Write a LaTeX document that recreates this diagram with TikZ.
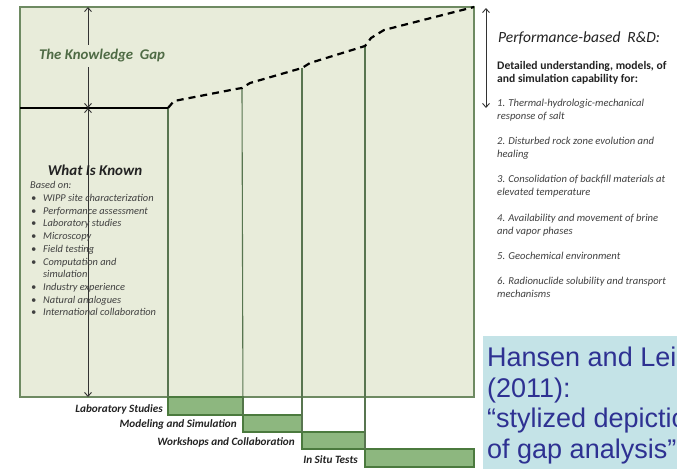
\documentclass[tikz,border=0pt]{standalone}
\usepackage{fontspec}
\setmainfont{Carlito}
\newfontfamily\arialf{Liberation Sans}
\usetikzlibrary{arrows.meta}
\definecolor{boxfill}{HTML}{E8ECDA}
\definecolor{boxline}{HTML}{6E8A62}
\definecolor{barfill}{HTML}{8DB77F}
\definecolor{barline}{HTML}{4B7A3E}
\definecolor{vlinecol}{HTML}{587550}
\definecolor{gapgreen}{HTML}{4F6B45}
\definecolor{listgrey}{HTML}{404040}
\definecolor{darktext}{HTML}{222222}
\definecolor{arrowcol}{HTML}{333333}
\definecolor{calloutfill}{HTML}{C4E3E7}
\definecolor{callouttext}{HTML}{2E3192}
\tikzset{
  mainbox/.style={draw=boxline, fill=boxfill, line width=1.5pt, inner sep=0pt, outer sep=0pt},
  barbox/.style={draw=barline, fill=barfill, line width=1.2pt, inner sep=0pt, outer sep=0pt},
  vline/.style={draw=vlinecol, line width=1.1pt},
  knownline/.style={draw=black, line width=2.5pt},
  gapline/.style={draw=black, line width=2.2pt, dash pattern=on 7pt off 5pt},
  gaparrow/.style={draw=arrowcol, line width=0.9pt, {Straight Barb[length=4pt,width=7pt]}-{Straight Barb[length=4pt,width=7pt]}},
  listtxt/.style={anchor=base west, inner sep=0pt, text=listgrey, font=\fontsize{10.4}{12}\selectfont\itshape},
  rlisttxt/.style={anchor=base west, inner sep=0pt, text=listgrey, font=\fontsize{10.6}{12}\selectfont\itshape},
  barlabel/.style={anchor=base east, inner sep=0pt, text=darktext, font=\fontsize{11.2}{13}\selectfont\bfseries\itshape},
  calltxt/.style={anchor=base west, inner sep=0pt, text=callouttext, font=\fontsize{27}{31}\selectfont\arialf},
}
\begin{document}
\begin{tikzpicture}[x=1pt,y=-1pt]
\useasboundingbox (0,0) rectangle (677,469);
\fill[white] (0,0) rectangle (677,469);

% main box
\node[mainbox, minimum width=454pt, minimum height=390pt] (main) at (247,202) {};

% bars
\node[barbox, anchor=north west, minimum width=75pt, minimum height=18pt] (lab) at (168,397) {};
\node[barbox, anchor=north west, minimum width=59pt, minimum height=17pt] (model) at (243,415) {};
\node[barbox, anchor=north west, minimum width=63pt, minimum height=17pt] (work) at (302,432) {};
\node[barbox, anchor=north west, minimum width=109pt, minimum height=18pt] (situ) at (365,449) {};

% key points on the gap curve
\coordinate (c1) at (168,108);
\coordinate (c2) at (242,88);
\coordinate (c3) at (302,68);
\coordinate (c4) at (365,46);

% vertical lines
\draw[vline] (c1) -- (lab.north west);
\draw[vline] (c2) -- (model.north west);
\draw[vline] (c3) -- (work.north west);
\draw[vline] (c4) -- (situ.north west);

% known line and gap curve
\draw[knownline] (main.west |- c1) -- (c1);
\draw[gapline] (c1) -- (174,101) -- (236,89) -- (c2) -- (250,83) -- (c3) -- (310,63) -- (c4) -- (371,38) -- (384,30) -- (main.north east);

% arrows
\coordinate (gt) at (88,7);
\coordinate (gm) at (88,108);
\coordinate (gb) at (88,397);
\draw[gaparrow] (gt) -- (gm);
\draw[gaparrow] (gm) -- (gb);
\coordinate (rt) at (486,8);
\coordinate (rb) at (486,108);
\draw[gaparrow] (rt) -- (rb);

% knowledge gap label
\node[fill=boxfill, inner xsep=1pt, inner ysep=5pt, text=gapgreen, font=\fontsize{14.8}{17}\selectfont\bfseries\itshape] (gaplbl) at (102,56) {The Knowledge\ \ Gap};

% what is known
\node[inner sep=0pt, anchor=base, text=darktext, font=\fontsize{15}{17}\selectfont\bfseries\itshape] (known) at (95,175) {What Is Known};
\node[listtxt] (based) at (30,188.5) {Based on:};
\foreach \yy/\tt [count=\i] in {201.5/WIPP site characterization, 214/Performance assessment, 226.5/Laboratory studies, 239/Microscopy, 252/Field testing, 265/Computation and, 290.5/Industry experience, 303/Natural analogues, 315.5/International collaboration}{
  \node[listtxt] (bul\i) at (31,\yy) {\textbullet};
  \node[listtxt] (item\i) at (43,\yy) {\tt};
}
\node[listtxt] (itemsim) at (43,277.5) {simulation};

% right column
\node[anchor=base west, inner sep=0pt, text=darktext, font=\fontsize{15.5}{18}\selectfont\itshape] (perf) at (498,42) {Performance-based\ \ R\&D:};
\node[anchor=base west, inner sep=0pt, text=darktext, font=\fontsize{11.6}{13}\selectfont\bfseries] (det1) at (497,69) {Detailed understanding, models, of};
\node[anchor=base west, inner sep=0pt, text=darktext, font=\fontsize{11.6}{13}\selectfont\bfseries] (det2) at (497,82) {and simulation capability for:};
\node[rlisttxt] (r1a) at (497,106) {1. Thermal-hydrologic-mechanical};
\node[rlisttxt] (r1b) at (497,119) {response of salt};
\node[rlisttxt] (r2a) at (497,144) {2. Disturbed rock zone evolution and};
\node[rlisttxt] (r2b) at (497,157) {healing};
\node[rlisttxt] (r3a) at (497,182) {3. Consolidation of backfill materials at};
\node[rlisttxt] (r3b) at (497,195.5) {elevated temperature};
\node[rlisttxt] (r4a) at (497,221) {4. Availability and movement of brine};
\node[rlisttxt] (r4b) at (497,234) {and vapor phases};
\node[rlisttxt] (r5a) at (497,259) {5. Geochemical environment};
\node[rlisttxt] (r6a) at (497,284) {6. Radionuclide solubility and transport};
\node[rlisttxt] (r6b) at (497,297) {mechanisms};

% bar labels
\node[barlabel] (lablbl) at (163,412) {Laboratory Studies};
\node[barlabel] (modlbl) at (237,427.5) {Modeling and Simulation};
\node[barlabel] (worklbl) at (295,445) {Workshops and Collaboration};
\node[barlabel] (situlbl) at (358,463) {In Situ Tests};

% callout
\node[fill=calloutfill, anchor=north west, inner sep=0pt, minimum width=194pt, minimum height=133pt] (callout) at (483,336) {};
\begin{scope}
\clip (callout.north west) rectangle (callout.south east);
\node[calltxt] (cl1) at (487,366) {Hansen and Leigh};
\node[calltxt] (cl2) at (487,397) {(2011):};
\node[calltxt] (cl3) at (487,427) {“stylized depiction};
\node[calltxt] (cl4) at (487,458) {of gap analysis”};
\end{scope}
\end{tikzpicture}
\end{document}
